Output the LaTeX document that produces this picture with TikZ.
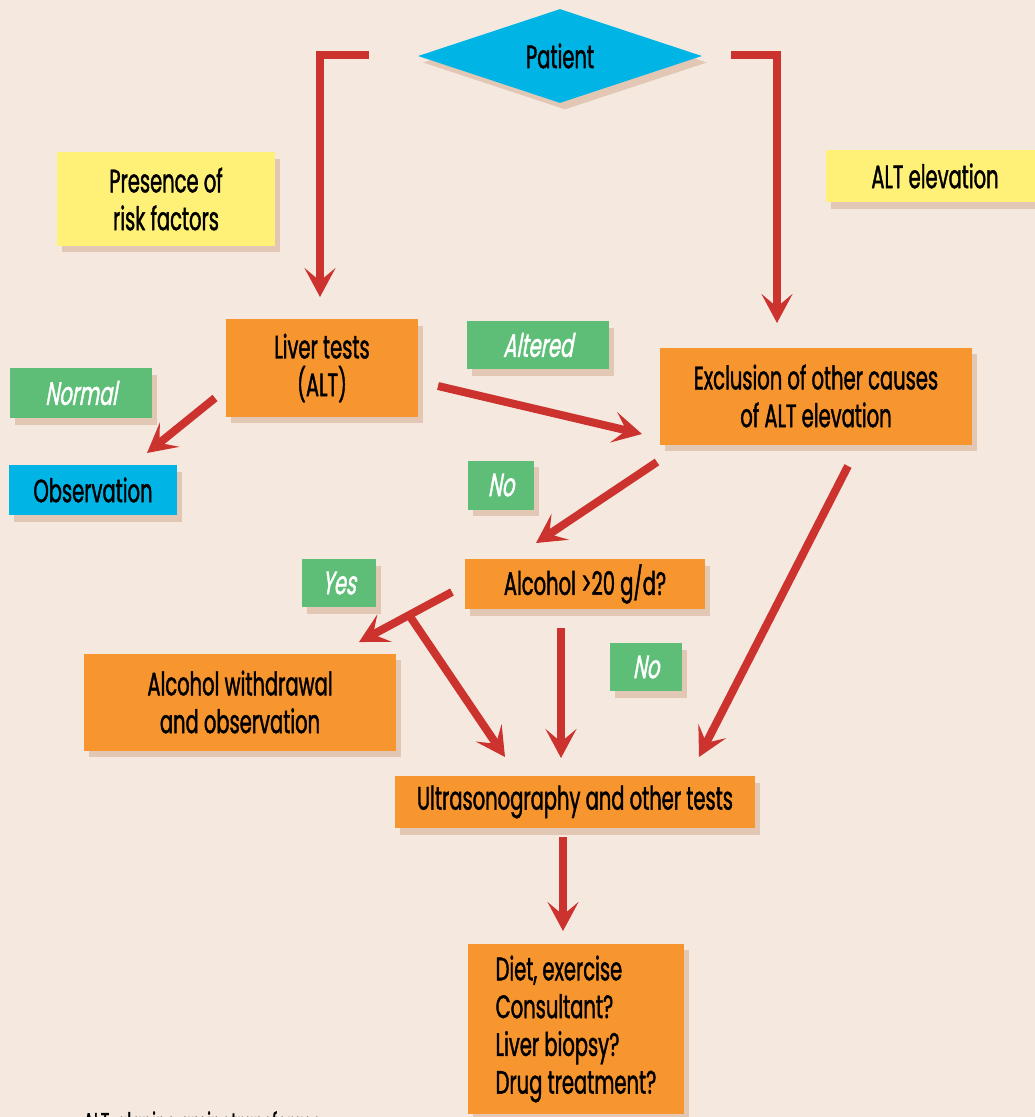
\documentclass[tikz,border=0pt]{standalone}
\usepackage{fontspec}
\setmainfont{Poppins}[FakeStretch=0.6,FakeBold=1.2]
\newfontfamily\slantfont{Poppins}[FakeStretch=0.6,FakeBold=1.2,FakeSlant=0.18]
\usetikzlibrary{arrows.meta,shapes.geometric,shadows}

\definecolor{bgpeach}{RGB}{245,233,223}
\definecolor{boxorange}{RGB}{247,149,46}
\definecolor{boxgreen}{RGB}{94,190,120}
\definecolor{boxblue}{RGB}{0,180,230}
\definecolor{boxyellow}{RGB}{255,240,120}
\definecolor{shade}{RGB}{226,199,181}
\definecolor{arrowred}{RGB}{204,50,46}

\tikzset{
  card/.style={rectangle, inner sep=0pt, align=center,
    font=\fontsize{18.5}{21.5}\selectfont,
    drop shadow={shadow xshift=0.1cm, shadow yshift=-0.13cm, fill=shade, opacity=1}},
  orangebox/.style={card, fill=boxorange},
  yellowbox/.style={card, fill=boxyellow},
  bluebox/.style={card, fill=boxblue},
  answer/.style={card, fill=boxgreen, text=white, font=\fontsize{18.5}{21.5}\slantfont},
  flow/.style={draw=arrowred, line width=0.16cm,
    -{Stealth[length=0.58cm,width=0.62cm,inset=0.26cm]}},
}

\begin{document}
\begin{tikzpicture}[x=0.02cm,y=-0.02cm]
   \fill[bgpeach] (0,0) rectangle (1035,1117);
   \useasboundingbox (0,0) rectangle (1035,1117);

   % boxes
   \node[bluebox,shape=diamond,minimum width=5.68cm,minimum height=1.88cm] (patient) at (560,56) {Patient};
   \node[yellowbox,minimum width=4.36cm,minimum height=1.88cm] (risk) at (166,199) {Presence of\\risk factors};
   \node[yellowbox,minimum width=4.38cm,minimum height=1.04cm] (altelev) at (935,176) {ALT elevation};
   \node[orangebox,minimum width=3.84cm,minimum height=1.96cm] (liver) at (322,368) {Liver tests\\(ALT)};
   \node[answer,minimum width=2.84cm,minimum height=1cm] (normal) at (81,393) {Normal};
   \node[bluebox,minimum width=3.36cm,minimum height=1cm] (observ) at (93,490) {Observation};
   \node[answer,minimum width=2.84cm,minimum height=0.96cm] (altered) at (538,345) {Altered};
   \node[orangebox,minimum width=6.24cm,minimum height=1.94cm] (exclusion) at (816,396) {Exclusion of other causes\\of ALT elevation};
   \node[answer,minimum width=1.34cm,minimum height=0.98cm] (noa) at (501,485) {No};
   \node[orangebox,minimum width=4.8cm,minimum height=1cm] (alcohol) at (585,584) {Alcohol {>}20 g/d?};
   \node[answer,minimum width=1.48cm,minimum height=0.96cm] (yes) at (339,583) {Yes};
   \node[answer,minimum width=1.46cm,minimum height=0.96cm] (nob) at (646,667) {No};
   \node[orangebox,minimum width=6.24cm,minimum height=1.94cm] (withdraw) at (240,702) {Alcohol withdrawal\\and observation};
   \node[orangebox,minimum width=7.2cm,minimum height=1.04cm] (ultra) at (575,802) {Ultrasonography and other tests};
   \node[orangebox,align=left,minimum width=4.32cm,minimum height=3.42cm] (diet) at (576,1029) {Diet, exercise\\Consultant?\\Liver biopsy?\\Drug treatment?};
   \node[anchor=north west,inner sep=0pt,font=\fontsize{15}{18}\selectfont] (abbrev) at (83,1111) {ALT, alanine aminotransferase};

   % arrow ends
   \coordinate (lstart) at (369,55);
   \coordinate (lend)   at (320,297);
   \coordinate (rstart) at (731,55);
   \coordinate (rend)   at (777,323);
   \coordinate (fork)   at (409,615);

   \draw[flow] (lstart) -| (lend);
   \draw[flow] (rstart) -| (rend);
   \draw[flow] (215,398) -- (147,453);
   \draw[flow] (438,386) -- (642,434);
   \draw[flow] (657,462) -- (536,543);
   \draw[flow] (848,466) -- (699,757);
   \draw[flow] (452,592) -- (359,642);
   \draw[flow] (fork) -- (505,757);
   \draw[flow] (561,628) -- (561,758);
   \draw[flow] (563,837) -- (563,931);
\end{tikzpicture}
\end{document}
